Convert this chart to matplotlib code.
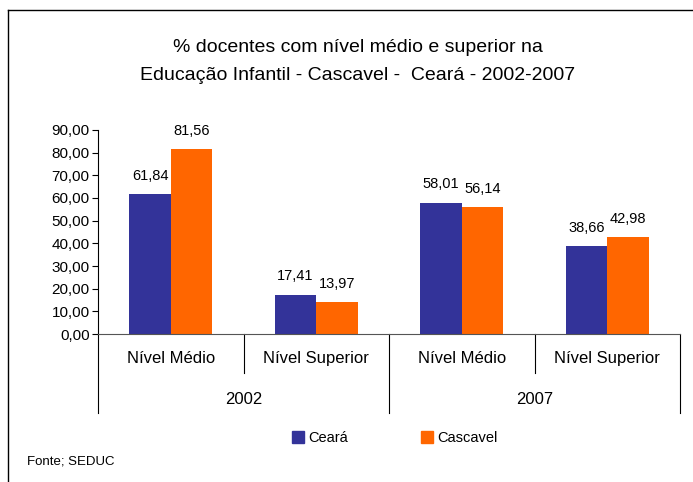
import matplotlib.pyplot as plt
import numpy as np
from matplotlib.lines import Line2D
from matplotlib.patches import Patch

plt.rcParams['font.family'] = ['Liberation Sans', 'DejaVu Sans']

categories = ['Nível Médio', 'Nível Superior', 'Nível Médio', 'Nível Superior']
years = ['2002', '2007']
ceara = [61.84, 17.41, 58.01, 38.66]
cascavel = [81.56, 13.97, 56.14, 42.98]
series_names = ['Ceará', 'Cascavel']
colors = ['#333399', '#FF6600']

W = 0.285

fig = plt.figure(figsize=(6.93, 4.82), dpi=100)
ax = fig.add_axes([98/693, 1-334/482, (680-98)/693, 204/482])

x = np.arange(len(categories))
b1 = ax.bar(x - W/2, ceara, W, color=colors[0])
b2 = ax.bar(x + W/2, cascavel, W, color=colors[1])

for bars, vals in ((b1, ceara), (b2, cascavel)):
    for rect, v in zip(bars, vals):
        ax.annotate(f'{v:.2f}'.replace('.', ','), (rect.get_x() + rect.get_width()/2, v),
                    xytext=(0, 13), textcoords='offset points', ha='center', va='center',
                    fontsize=10.5)

ax.set_xlim(-0.5, len(categories) - 0.5)
ax.set_ylim(0, 90)
ax.set_yticks(np.arange(0, 91, 10))
ax.set_yticklabels([f'{v:.2f}'.replace('.', ',') for v in np.arange(0, 91, 10)], fontsize=11)
ax.set_xticks([])
ax.spines['top'].set_visible(False)
ax.spines['right'].set_visible(False)
ax.spines['left'].set_color('black')
ax.spines['bottom'].set_color('#555555')
ax.tick_params(axis='y', length=4, width=0.8, pad=2)

# grouped category axis
tr = ax.get_xaxis_transform()
for i, c in enumerate(categories):
    ax.text(i, -0.1225, c, transform=tr, ha='center', va='center', fontsize=12)
for k in range(len(categories) + 1):
    bottom = -0.387 if k % 2 == 0 else -0.191
    ax.add_line(Line2D([k - 0.5, k - 0.5], [0, bottom], transform=tr, color='black',
                       lw=0.8, clip_on=False))
for j, yr in enumerate(years):
    ax.text(2*j + 0.5, -0.319, yr, transform=tr, ha='center', va='center', fontsize=12)

fig.text(358/693, 1-47/482, '% docentes com nível médio e superior na', ha='center',
         va='center', fontsize=14)
fig.text(358/693, 1-75/482, 'Educação Infantil - Cascavel -  Ceará - 2002-2007', ha='center',
         va='center', fontsize=14)

handles = [Patch(color=c) for c in colors]
fig.legend(handles, series_names, loc='center', bbox_to_anchor=(395/693, 1-438/482),
           ncol=2, frameon=False, fontsize=10.5, handlelength=0.8, handleheight=0.8,
           handletextpad=0.3, columnspacing=5.0)

fig.text(27/693, 1-461/482, 'Fonte; SEDUC', ha='left', va='center', fontsize=9.5)

# outer frame (left and top edges)
fig.add_artist(Line2D([8/693, 8/693], [0, 1-10/482], transform=fig.transFigure, color='black', lw=1))
fig.add_artist(Line2D([8/693, 1], [1-10/482, 1-10/482], transform=fig.transFigure, color='black', lw=1))

fig.savefig('out.png', dpi=100)
